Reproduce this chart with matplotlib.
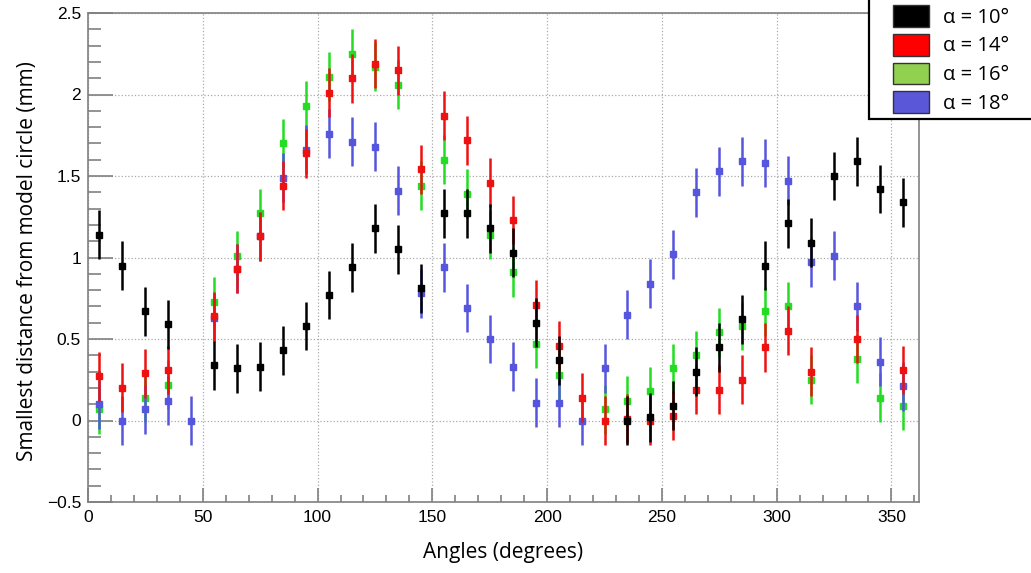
import numpy as np
import matplotlib
matplotlib.use("Agg")
import matplotlib.pyplot as plt
from matplotlib.patches import Patch, Rectangle
from matplotlib.ticker import MultipleLocator, FuncFormatter

nan = np.nan
angles = [5, 15, 25, 35, 45, 55, 65, 75, 85, 95, 105, 115, 125, 135, 145, 155, 165, 175,
          185, 195, 205, 215, 225, 235, 245, 255, 265, 275, 285, 295, 305, 315, 325, 335, 345, 355]

alpha10 = [1.14, 0.95, 0.67, 0.59, nan, 0.34, 0.32, 0.33, 0.43, 0.58, 0.77, 0.94, 1.18, 1.05, 0.81, 1.27, 1.27, 1.18,
           1.03, 0.60, 0.37, nan, nan, 0.00, 0.02, 0.09, 0.30, 0.45, 0.62, 0.95, 1.21, 1.09, 1.50, 1.59, 1.42, 1.34]
alpha14 = [0.27, 0.20, 0.29, 0.31, nan, 0.64, 0.93, 1.13, 1.44, 1.64, 2.01, 2.10, 2.19, 2.15, 1.54, 1.87, 1.72, 1.46,
           1.23, 0.71, 0.46, 0.14, 0.00, 0.01, 0.00, 0.03, 0.19, 0.19, 0.25, 0.45, 0.55, 0.30, nan, 0.50, nan, 0.31]
alpha16 = [0.07, nan, 0.14, 0.22, nan, 0.73, 1.01, 1.27, 1.70, 1.93, 2.11, 2.25, 2.17, 2.06, 1.44, 1.60, 1.39, 1.14,
           0.91, 0.47, 0.28, nan, 0.07, 0.12, 0.18, 0.32, 0.40, 0.54, 0.58, 0.67, 0.70, 0.25, nan, 0.38, 0.14, 0.09]
alpha18 = [0.10, 0.00, 0.07, 0.12, 0.00, 0.63, 0.93, 1.13, 1.49, 1.66, 1.76, 1.71, 1.68, 1.41, 0.78, 0.94, 0.69, 0.50,
           0.33, 0.11, 0.11, 0.00, 0.32, 0.65, 0.84, 1.02, 1.40, 1.53, 1.59, 1.58, 1.47, 0.97, 1.01, 0.70, 0.36, 0.21]
err = 0.15

labels = ["\u03b1 = 10\u00b0", "\u03b1 = 14\u00b0", "\u03b1 = 16\u00b0", "\u03b1 = 18\u00b0"]
marker_colors = ["#000000", "#ee1111", "#22dd22", "#5555dd"]
legend_colors = ["#000000", "#ff0000", "#92d050", "#5b57d9"]
zorders = [6, 5, 3, 4]

W, H = 1031, 573
fig = plt.figure(figsize=(W/100, H/100), dpi=100)
ax = fig.add_axes([88/W, 1-502/H, (919-88)/W, (502-13)/H])

for ys, c, z in zip([alpha10, alpha14, alpha16, alpha18], marker_colors, zorders):
    ax.errorbar(angles, ys, yerr=err, fmt='s', color=c, ecolor=c, markersize=4.8,
                elinewidth=1.8, capsize=0, zorder=z)

ax.set_xlim(0, 362)
ax.set_ylim(-0.5, 2.5)
ax.xaxis.set_major_locator(MultipleLocator(50))
ax.xaxis.set_minor_locator(MultipleLocator(10))
ax.yaxis.set_major_locator(MultipleLocator(0.5))
ax.yaxis.set_minor_locator(MultipleLocator(0.1))
ax.yaxis.set_major_formatter(FuncFormatter(lambda v, p: ('%g' % v).replace('-', '\u2212')))
ax.grid(True, which='major', linestyle=':', color='#aaaaaa', linewidth=0.9, zorder=0)
ax.set_axisbelow(True)

ax.tick_params(axis='both', which='both', direction='in', color='#808080', width=1.2, labelsize=12.5)
ax.tick_params(axis='y', which='major', length=18, pad=5)
ax.tick_params(axis='y', which='minor', length=9.5)
ax.tick_params(axis='x', which='major', length=10, pad=6)
ax.tick_params(axis='x', which='minor', length=5)
for lab in ax.get_xticklabels() + ax.get_yticklabels():
    lab.set_family(['Liberation Sans', 'DejaVu Sans'])
for s in ax.spines.values():
    s.set_color('#808080')
    s.set_linewidth(1.2)

ax.set_xlabel("Angles (degrees)", fontsize=15, family=['Open Sans', 'DejaVu Sans'], labelpad=12)
ax.set_ylabel("Smallest distance from model circle (mm)", fontsize=15,
              family=['Open Sans', 'DejaVu Sans'])
ax.yaxis.set_label_coords(-(88-38)/(919-88), (502-261)/(502-13))

# legend box
fig.patches.append(Rectangle((869/W, 1-119/H), 0.2, 0.3, transform=fig.transFigure,
                             facecolor='white', edgecolor='black', linewidth=1.6, zorder=19))
handles = [Patch(facecolor=c, edgecolor='#333333', linewidth=1.0) for c in legend_colors]
leg = fig.legend(handles, labels, loc='upper left', bbox_to_anchor=(893/W, 1-5/H),
                 frameon=False, handlelength=1.8, handleheight=1.3, labelspacing=0.3,
                 borderpad=0, handletextpad=0.7, borderaxespad=0,
                 prop={'family': ['Open Sans', 'DejaVu Sans'], 'size': 14.5})
leg.set_zorder(20)

fig.savefig("out.png", dpi=100)
